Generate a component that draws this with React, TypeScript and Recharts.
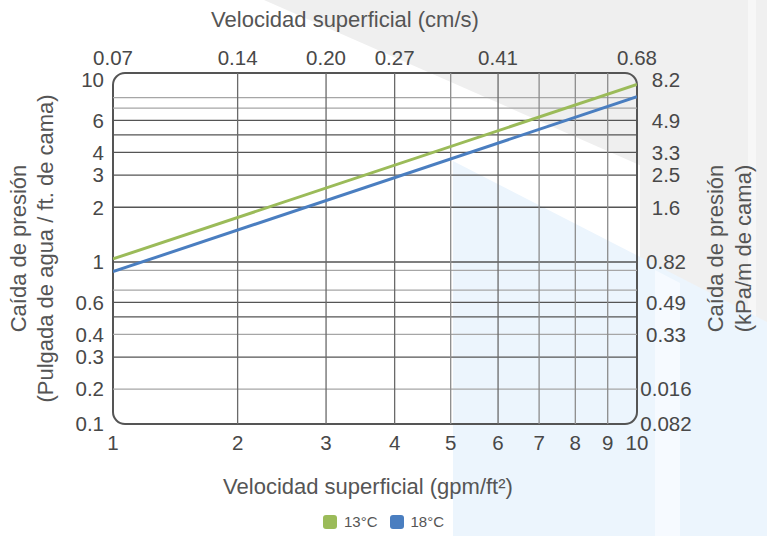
import React from 'react'
import {
  LineChart, Line, XAxis, YAxis, ReferenceLine, ReferenceArea, Rectangle, Label, Legend,
} from 'recharts'

// velocidad superficial (gpm/ft2) vs caída de presión (pulgada de agua / ft. de cama)
const velocity = [1, 10]
const drop13C = [1.04, 9.45]
const drop18C = [0.885, 8.1]

const gpmTicks = [1, 2, 3, 4, 5, 6, 7, 8, 9, 10]
const cmsTicks = [1, 2, 3, 4, 6, 10]
const cmsLabels = ['0.07', '0.14', '0.20', '0.27', '0.41', '0.68']

const yDomain = [0.1288, 10.93]
const inchTicks = [0.1288, 0.2, 0.3, 0.4, 0.6, 1, 2, 3, 4, 6, 10]
const inchLabels = ['0.1', '0.2', '0.3', '0.4', '0.6', '1', '2', '3', '4', '6', '10']
const kpaTicks = [0.1288, 0.2, 0.4, 0.6, 1, 2, 3, 4, 6, 10]
const kpaLabels = ['0.082', '0.016', '0.33', '0.49', '0.82', '1.6', '2.5', '3.3', '4.9', '8.2']

const hGridDark = [0.3, 0.5, 0.6, 1, 2, 3, 4, 5, 6]
const hGridLight = [0.2, 0.4, 0.7, 0.9, 7, 8]
const vGridDark = [2, 3, 4, 6]
const vGridLight = [5, 7, 8, 9]

const GREEN = '#9BBB59'
const BLUE = '#4A7EC0'
const FONT = '"Liberation Sans", Arial, Helvetica, sans-serif'
const TEXT = '#484848'

const data = velocity.map((v, i) => ({ v, t13: drop13C[i], t18: drop18C[i] }))

const tickStyle = { fontSize: 20.5, fill: TEXT, fontFamily: FONT }
const titleStyle = { fontSize: 22, fill: '#555', fontFamily: FONT }

function LegendBox({ payload }: any) {
  return (
    <div style={{ display: 'flex', justifyContent: 'center', gap: 12, fontFamily: FONT, fontSize: 15, color: '#555' }}>
      {(payload || []).map((p: any) => (
        <span key={p.value} style={{ display: 'flex', alignItems: 'center', gap: 7 }}>
          <span style={{ width: 14, height: 14, borderRadius: 3, background: p.color, display: 'inline-block' }} />
          {p.value}
        </span>
      ))}
    </div>
  )
}

export default function App() {
  return (
    <div style={{ position: 'absolute', left: 0, top: 0, width: 767, height: 536, background: '#fff', overflow: 'hidden' }}>
      {/* decorative background shapes */}
      <div style={{ position: 'absolute', inset: 0, background: '#efefef', clipPath: 'polygon(264px 0, 767px 0, 767px 221px)' }} />
      <div style={{ position: 'absolute', inset: 0, background: '#f0f0f0', clipPath: 'polygon(640px 0, 767px 0, 767px 350px, 640px 290px)' }} />
      <div style={{ position: 'absolute', inset: 0, background: '#f7f7f7', clipPath: 'polygon(748px 0, 756px 0, 756px 345px, 748px 341px)' }} />
      <div style={{ position: 'absolute', inset: 0, background: '#ecf5fd', clipPath: 'polygon(453px 161px, 767px 322px, 767px 536px, 453px 536px)' }} />
      <div style={{ position: 'absolute', inset: 0, background: '#f6faff', clipPath: 'polygon(655px 270px, 680px 283px, 680px 536px, 655px 536px)' }} />
      <div style={{ position: 'relative' }}>
        <LineChart width={767} height={536} data={data} margin={{ top: 27, right: 0, bottom: 58, left: 0 }}>
          <XAxis
            xAxisId="bottom" dataKey="v" type="number" scale="symlog" domain={[1, 10]} allowDataOverflow
            ticks={gpmTicks} interval={0} axisLine={false} tickLine={false} tickSize={0} tickMargin={11}
            height={54} tick={tickStyle}
          >
            <Label value="Velocidad superficial (gpm/ft²)" position="bottom" offset={0} dx={-7} style={titleStyle} />
          </XAxis>
          <XAxis
            xAxisId="top" dataKey="v" orientation="top" type="number" scale="symlog" domain={[1, 10]} allowDataOverflow
            ticks={cmsTicks} interval={0} axisLine={false} tickLine={false} tickSize={0} tickMargin={8}
            height={46} tick={tickStyle}
            tickFormatter={(v: number) => cmsLabels[cmsTicks.indexOf(v)]}
          >
            <Label value="Velocidad superficial (cm/s)" position="top" offset={0} dx={-30} style={titleStyle} />
          </XAxis>
          <YAxis
            yAxisId="left" type="number" scale="log" domain={yDomain} allowDataOverflow
            ticks={inchTicks} interval={0} axisLine={false} tickLine={false} tickSize={0} tickMargin={9}
            width={113} tick={tickStyle}
            tickFormatter={(v: number) => inchLabels[inchTicks.indexOf(v)]}
          >
            <Label value="Caída de presión" position="center" angle={-90} dx={-38.5} style={titleStyle} />
            <Label value="(Pulgada de agua / ft. de cama)" position="center" angle={-90} dx={-11.5} style={titleStyle} />
          </YAxis>
          <YAxis
            yAxisId="right" orientation="right" type="number" scale="log" domain={yDomain} allowDataOverflow
            ticks={kpaTicks} interval={0} axisLine={false} tickLine={false} tickSize={0} tickMargin={29}
            width={130} tick={{ ...tickStyle, textAnchor: 'middle' }}
            tickFormatter={(v: number) => kpaLabels[kpaTicks.indexOf(v)]}
          >
            <Label value="Caída de presión" position="center" angle={-90} dx={13} style={titleStyle} />
            <Label value="(kPa/m de cama)" position="center" angle={-90} dx={41} style={titleStyle} />
          </YAxis>

          {hGridLight.map(v => (
            <ReferenceLine key={'hl' + v} xAxisId="bottom" yAxisId="left" y={v} stroke="#a6a6a6" strokeWidth={1.3} />
          ))}
          {hGridDark.map(v => (
            <ReferenceLine key={'hd' + v} xAxisId="bottom" yAxisId="left" y={v} stroke="#555" strokeWidth={1.3} />
          ))}
          {vGridLight.map(v => (
            <ReferenceLine key={'vl' + v} xAxisId="bottom" yAxisId="left" x={v} stroke="#8c8c8c" strokeWidth={1.3} />
          ))}
          {vGridDark.map(v => (
            <ReferenceLine key={'vd' + v} xAxisId="bottom" yAxisId="left" x={v} stroke="#6a6a6a" strokeWidth={1.3} />
          ))}
          <ReferenceArea
            xAxisId="bottom" yAxisId="left" x1={1} x2={10} y1={yDomain[0]} y2={yDomain[1]}
            ifOverflow="visible"
            shape={(p: any) => <Rectangle {...p} fill="none" stroke="#555" strokeWidth={2} radius={12} />}
          />

          <Line xAxisId="bottom" yAxisId="left" dataKey="t13" name="13°C" stroke={GREEN} strokeWidth={3} dot={false} type="linear" isAnimationActive={false} />
          <Line xAxisId="bottom" yAxisId="left" dataKey="t18" name="18°C" stroke={BLUE} strokeWidth={3} dot={false} type="linear" isAnimationActive={false} />

          <Legend
            layout="horizontal" verticalAlign="middle" align="center"
            wrapperStyle={{ top: 513, left: 0, width: 767 }}
            content={<LegendBox />}
          />
        </LineChart>
      </div>
    </div>
  )
}
